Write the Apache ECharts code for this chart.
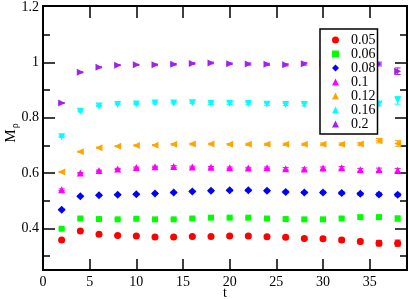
<!DOCTYPE html>
<html>
<head>
<meta charset="utf-8">
<script src="https://cdn.jsdelivr.net/npm/echarts@6/dist/echarts.min.js"></script>
<style>html,body{margin:0;padding:0;background:#fff;}#c{width:409px;height:299px;}</style>
</head>
<body>
<div id="c"></div>
<script>
const tValues = [2,4,6,8,10,12,14,16,18,20,22,24,26,28,30,32,34,36,38];
const seriesNames = ['0.05','0.06','0.08','0.1','0.12','0.16','0.2'];
const m005 = [0.358,0.391,0.379,0.375,0.373,0.369,0.369,0.371,0.371,0.373,0.373,0.370,0.368,0.364,0.363,0.358,0.353,0.347,0.347];
const m006 = [0.399,0.436,0.434,0.433,0.435,0.433,0.433,0.436,0.439,0.439,0.439,0.436,0.434,0.433,0.433,0.436,0.441,0.441,0.436];
const m008 = [0.468,0.516,0.520,0.522,0.524,0.526,0.530,0.534,0.536,0.538,0.538,0.536,0.532,0.530,0.530,0.528,0.525,0.523,0.522];
const m010 = [0.540,0.600,0.609,0.615,0.620,0.623,0.624,0.622,0.621,0.619,0.618,0.619,0.616,0.615,0.618,0.619,0.612,0.612,0.610];
const m012 = [0.604,0.677,0.692,0.697,0.700,0.701,0.704,0.705,0.705,0.704,0.704,0.704,0.704,0.704,0.704,0.704,0.705,0.717,0.707];
const m016 = [0.731,0.823,0.842,0.848,0.850,0.853,0.853,0.854,0.851,0.851,0.851,0.849,0.848,0.848,0.849,0.849,0.849,0.850,0.863];
const m020 = [0.853,0.964,0.982,0.990,0.991,0.991,0.993,0.996,0.998,0.995,0.994,0.993,0.991,0.995,0.995,0.995,0.995,0.994,0.968];
const e005 = [0.002,0.002,0.002,0.002,0.002,0.003,0.003,0.003,0.003,0.003,0.004,0.004,0.005,0.005,0.006,0.007,0.008,0.010,0.011];
const e006 = [0.002,0.002,0.002,0.002,0.002,0.002,0.002,0.003,0.003,0.003,0.003,0.003,0.004,0.004,0.004,0.005,0.005,0.006,0.009];
const e008 = [0.002,0.002,0.002,0.002,0.002,0.002,0.002,0.002,0.003,0.003,0.003,0.003,0.003,0.003,0.004,0.004,0.004,0.005,0.005];
const e010 = [0.003,0.002,0.002,0.002,0.002,0.002,0.003,0.003,0.003,0.003,0.003,0.003,0.004,0.004,0.004,0.005,0.005,0.006,0.007];
const e012 = [0.002,0.002,0.002,0.002,0.002,0.002,0.003,0.003,0.003,0.003,0.004,0.004,0.004,0.004,0.005,0.005,0.006,0.008,0.010];
const e016 = [0.002,0.002,0.002,0.002,0.002,0.003,0.003,0.003,0.003,0.003,0.004,0.004,0.004,0.005,0.005,0.005,0.006,0.007,0.014];
const e020 = [0.002,0.002,0.002,0.002,0.002,0.003,0.003,0.003,0.003,0.003,0.004,0.004,0.004,0.005,0.005,0.005,0.006,0.007,0.012];
const xTickLabels = [0,5,10,15,20,25,30,35];
const xMajorTicks = [5,10,15,20,25,30,35];
const yTickLabels = [0.4,0.6,0.8,1,1.2];
const yMajorTicks = [0.4,0.6,0.8,1];
const yMinorTicks = [0.3,0.5,0.7,0.9,1.1];
const xTitle = 't';
const yTitle = '{m|M}{s|ρ}';

const values = [m005,m006,m008,m010,m012,m016,m020];
const errors = [e005,e006,e008,e010,e012,e016,e020];
const colors = ['#ff0000','#00ff00','#0000ff','#ff00ff','#ffa500','#00ffff','#a020f0'];
const symbols = ['circle','rect','diamond','triangle','triangle','triangle','triangle'];
const rotates = [0,0,0,0,90,180,-90];
const sizes = [7,6,8,7,7,7,7];

const FONT = 'Liberation Serif';
const GL = 43, GR = 2, GT = 6, GB = 29, W = 409, H = 299;
const plotW = W - GL - GR, plotH = H - GT - GB;

const series = [];
values.forEach((vals, i) => {
  const col = colors[i];
  series.push({
    type: 'custom',
    coordinateSystem: 'cartesian2d',
    xAxisIndex: 0, yAxisIndex: 0,
    silent: true,
    z: 2,
    data: tValues.map((t, k) => [t, vals[k], errors[i][k]]),
    renderItem: function (params, api) {
      const x = api.value(0), y = api.value(1), e = api.value(2);
      const hi = api.coord([x, y + e]);
      const lo = api.coord([x, y - e]);
      const w = 3;
      const st = {stroke: col, lineWidth: 1};
      return {type: 'group', children: [
        {type: 'line', shape: {x1: hi[0], y1: hi[1], x2: lo[0], y2: lo[1]}, style: st},
        {type: 'line', shape: {x1: hi[0] - w, y1: hi[1], x2: hi[0] + w, y2: hi[1]}, style: st},
        {type: 'line', shape: {x1: lo[0] - w, y1: lo[1], x2: lo[0] + w, y2: lo[1]}, style: st}
      ]};
    }
  });
  series.push({
    name: seriesNames[i],
    type: 'scatter',
    xAxisIndex: 0, yAxisIndex: 0,
    z: 3,
    symbol: symbols[i],
    symbolRotate: rotates[i],
    symbolSize: sizes[i],
    itemStyle: {color: col, opacity: 1},
    data: tValues.map((t, k) => [t, vals[k]])
  });
});

const tickStyle = {color: '#000', width: 1.5};
// tick axes sit on the opposite side, shifted across the plot, so their outward ticks point inward
function xTickAxis(position, offset) {
  return {type: 'value', position: position, offset: offset, min: 0, max: 39,
    axisLine: {show: false, onZero: false},
    axisTick: {show: true, inside: false, length: 12, customValues: xMajorTicks, lineStyle: tickStyle},
    axisLabel: {show: false}, splitLine: {show: false}};
}
function yTickAxis(position, offset, ticks, len) {
  return {type: 'value', position: position, offset: offset, min: 0.25, max: 1.2,
    axisLine: {show: false, onZero: false},
    axisTick: {show: true, inside: false, length: len, customValues: ticks, lineStyle: tickStyle},
    axisLabel: {show: false}, splitLine: {show: false}};
}

const chart = echarts.init(document.getElementById('c'), null, {renderer: 'canvas'});
chart.setOption({
  animation: false,
  grid: {left: GL, right: GR, top: GT, bottom: GB},
  legend: {
    data: seriesNames,
    orient: 'vertical',
    left: 320, top: 29,
    padding: [4, 2, 3, 12],
    itemGap: 0,
    itemWidth: 7, itemHeight: 7,
    backgroundColor: '#fff',
    borderColor: '#000', borderWidth: 1.5,
    textStyle: {fontFamily: FONT, fontSize: 14, color: '#000', padding: [0, 0, 0, 7]},
    z: 10
  },
  graphic: [
    {type: 'rect', z: 50, silent: true,
     shape: {x: GL, y: GT, width: plotW, height: plotH},
     style: {fill: 'none', stroke: '#000', lineWidth: 2}},
    {type: 'text', z: 50, silent: true, x: GL + plotW / 2, y: 293,
     style: {text: xTitle, fontFamily: FONT, fontSize: 14, fill: '#000', align: 'center', verticalAlign: 'middle'}},
    {type: 'text', z: 50, silent: true, x: 11, y: 133, rotation: Math.PI / 2,
     style: {text: yTitle, align: 'center', verticalAlign: 'middle',
       rich: {m: {fontFamily: FONT, fontSize: 15, fill: '#000'},
              s: {fontFamily: FONT, fontSize: 10, fill: '#000', padding: [8, 0, 0, 1]}}}}
  ],
  xAxis: [
    {type: 'value', position: 'bottom', min: 0, max: 39,
     axisLine: {show: false, onZero: false},
     axisTick: {show: false},
     axisLabel: {show: true, customValues: xTickLabels, margin: 5, fontFamily: FONT, fontSize: 14, color: '#000'},
     splitLine: {show: false}},
    xTickAxis('top', -plotH),
    xTickAxis('bottom', -plotH)
  ],
  yAxis: [
    {type: 'value', position: 'left', min: 0.25, max: 1.2,
     axisLine: {show: false, onZero: false},
     axisTick: {show: false},
     axisLabel: {show: true, customValues: yTickLabels, margin: 4, fontFamily: FONT, fontSize: 14, color: '#000',
                 formatter: v => String(+v.toFixed(2))},
     splitLine: {show: false}},
    yTickAxis('right', -plotW, yMajorTicks, 12),
    yTickAxis('right', -plotW, yMinorTicks, 7),
    yTickAxis('left', -plotW, yMajorTicks, 12),
    yTickAxis('left', -plotW, yMinorTicks, 7)
  ],
  series: series
});
</script>
</body>
</html>
